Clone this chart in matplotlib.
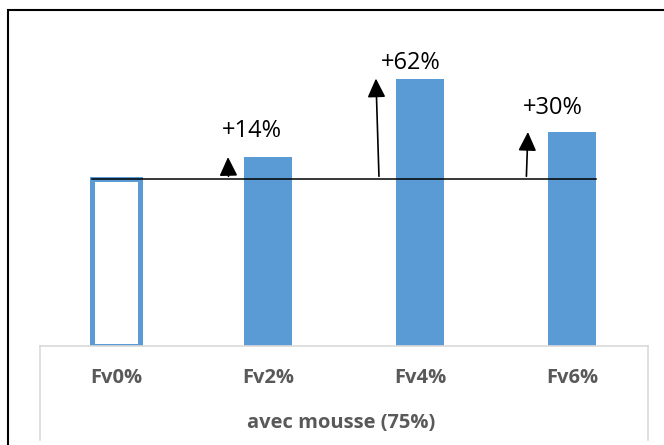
import matplotlib
matplotlib.use("Agg")
import matplotlib.pyplot as plt
from matplotlib.patches import Rectangle

# --- dati ---------------------------------------------------------------------
categories = ["Fv0%", "Fv2%", "Fv4%", "Fv6%"]
values = [100, 113, 160, 128]          # altezze relative (Fv0% = riferimento)
gains = ["+14%", "+62%", "+30%"]        # etichette per Fv2%, Fv4%, Fv6%
group_label = "avec mousse (75%)"

BLUE = "#5B9BD5"
GREY_TXT = "#595959"
GREY_AX = "#D9D9D9"
W, H, DPI = 664, 445, 100

plt.rcParams["font.family"] = ["Open Sans", "DejaVu Sans"]

fig = plt.figure(figsize=(W / DPI, H / DPI), dpi=DPI)
# area del grafico in pixel: x 40..648, y 20..346 (dall'alto)
ax = fig.add_axes([40 / W, (H - 346) / H, 608 / W, 326 / H])
ax.set_xlim(-0.5, len(categories) - 0.5)
ax.set_ylim(0, 195)

x = list(range(len(categories)))
bw = 0.31
# barra di riferimento vuota
ax.bar(x[0], values[0], width=bw, facecolor="white", edgecolor=BLUE, lw=3.6, zorder=2)
ax.bar(x[1:], values[1:], width=bw, color=BLUE, zorder=2)

# linea di riferimento all'altezza di Fv0%
ax.plot([x[0] - bw / 2, x[-1] + bw / 2], [values[0]] * 2, color="black", lw=1.1, zorder=3)

# frecce + etichette
arrow_dx = [(-0.26, -0.263), (-0.27, -0.29), (-0.30, -0.29)]   # (coda, punta)
label_off = [(-11.5, 19), (-7, 11), (-13.5, 17)]               # punti
for i, (g, (dt, dh), off) in enumerate(zip(gains, arrow_dx, label_off), start=1):
    ax.annotate("", xy=(x[i] + dh, values[i]), xytext=(x[i] + dt, values[0] + 1.5),
                arrowprops=dict(arrowstyle="-|>,head_length=1.15,head_width=0.55",
                                color="black", lw=1.2, shrinkA=0, shrinkB=0), zorder=4)
    ax.annotate(g, xy=(x[i], values[i]), xytext=off, textcoords="offset points",
                ha="center", va="center", fontsize=17, color="black")

# asse x in stile Excel
for s in ["top", "left", "right"]:
    ax.spines[s].set_visible(False)
ax.spines["bottom"].set_color(GREY_AX)
ax.spines["bottom"].set_linewidth(1.2)
ax.set_yticks([])
ax.set_xticks(x)
ax.set_xticklabels(categories, fontsize=14.5, fontweight="bold", color=GREY_TXT)
ax.tick_params(axis="x", length=0, pad=16)
depth = (440 - 346) / 326
for xx in (0, 1):
    ax.plot([xx, xx], [0, -depth], transform=ax.transAxes, color=GREY_AX, lw=1.2, clip_on=False)
fig.text(341 / W, 1 - 423 / H, group_label, ha="center", va="center",
         fontsize=14.5, fontweight="bold", color=GREY_TXT)

# cornice della figura (tagliata a destra e in basso)
fig.patches.append(Rectangle((8 / W, -0.1), 1.2, 1 - 10 / H + 0.1, transform=fig.transFigure,
                             fill=False, edgecolor="black", lw=1.5))

fig.savefig("out.png", dpi=DPI)
